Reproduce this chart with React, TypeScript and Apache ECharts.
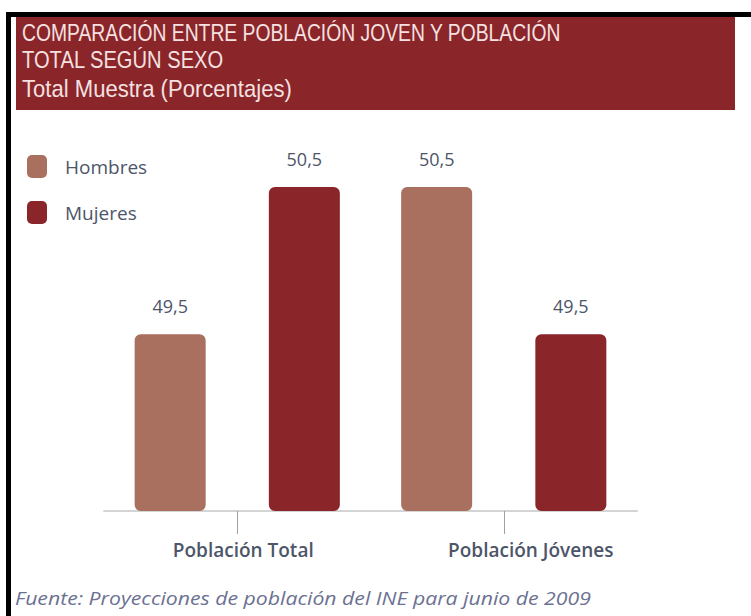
import React, { useEffect, useRef } from "react";
import * as echarts from "echarts";

const categories = ["Población Total", "Población Jóvenes"];
const seriesNames = ["Hombres", "Mujeres"];
const hombres = [49.5, 50.5];
const mujeres = [50.5, 49.5];
const titleLines = [
  "COMPARACIÓN ENTRE POBLACIÓN JOVEN Y POBLACIÓN",
  "TOTAL SEGÚN SEXO",
  "Total Muestra (Porcentajes)",
];
const sourceText = "Fuente: Proyecciones de población del INE para junio de 2009";

const RED = "#8a2529";
const BROWN = "#a96f5f";
const TEXT = "#4d5569";

export default function App() {
  const ref = useRef<HTMLDivElement>(null);
  useEffect(() => {
    document.body.style.margin = "0";
    const chart = echarts.init(ref.current!, null, { renderer: "svg" });
    const fmt = (p: any) => String(p.value).replace(".", ",");
    const labelCfg = {
      show: true,
      position: "top",
      distance: 19,
      formatter: fmt,
      color: TEXT,
      fontSize: 18,
      fontFamily: "Open Sans",
    };
    const titleFont = "24px 'Liberation Sans', Arial, sans-serif";
    chart.setOption({
      animation: false,
      backgroundColor: "#ffffff",
      legend: {
        orient: "vertical",
        left: 22,
        top: 150,
        icon: "roundRect",
        itemWidth: 20,
        itemHeight: 23,
        itemGap: 23,
        data: seriesNames,
        textStyle: {
          color: TEXT,
          fontSize: 19,
          fontFamily: "Open Sans",
          padding: [0, 0, 0, 13],
        },
      },
      grid: { left: 104, right: 114, top: 187, bottom: 105 },
      xAxis: {
        type: "category",
        data: categories,
        axisLine: { lineStyle: { color: "#d4d4d4", width: 2 } },
        axisTick: {
          show: true,
          alignWithLabel: true,
          length: 23,
          lineStyle: { color: "#a0a0a0", width: 1 },
        },
        axisLabel: {
          margin: 29,
          formatter: (v: string, i: number) => (i === 0 ? `{a|${v}}` : `{b|${v}}`),
          rich: {
            a: { color: TEXT, fontSize: 19, fontWeight: 600, fontFamily: "Open Sans", padding: [0, 0, 0, 12] },
            b: { color: TEXT, fontSize: 19, fontWeight: 600, fontFamily: "Open Sans", padding: [0, 0, 0, 54] },
          },
        },
      },
      yAxis: {
        type: "value",
        min: 48.3,
        max: 50.5,
        show: false,
      },
      series: [
        {
          name: seriesNames[0],
          type: "bar",
          data: hombres,
          barWidth: 71,
          barGap: "89%",
          itemStyle: { color: BROWN, borderRadius: 6 },
          label: labelCfg,
        },
        {
          name: seriesNames[1],
          type: "bar",
          data: mujeres,
          barWidth: 71,
          barGap: "89%",
          itemStyle: { color: RED, borderRadius: 6 },
          label: labelCfg,
        },
      ],
      graphic: [
        { type: "rect", shape: { x: 6, y: 12, width: 745, height: 5 }, style: { fill: "#000" } },
        { type: "rect", shape: { x: 6, y: 12, width: 5, height: 604 }, style: { fill: "#000" } },
        { type: "rect", shape: { x: 16, y: 17, width: 719, height: 93 }, style: { fill: RED } },
        {
          type: "text",
          x: 22,
          y: 21,
          scaleX: 0.805,
          style: { text: titleLines[0], fill: "#f5e1e1", font: titleFont },
        },
        {
          type: "text",
          x: 22,
          y: 48,
          scaleX: 0.84,
          style: { text: titleLines[1], fill: "#f5e1e1", font: titleFont },
        },
        {
          type: "text",
          x: 22,
          y: 77,
          scaleX: 0.92,
          style: { text: titleLines[2], fill: "#f5e1e1", font: titleFont },
        },
        {
          type: "text",
          x: 15,
          y: 589,
          scaleX: 1.18,
          style: { text: sourceText, fill: "#6b7191", font: "italic 18px 'Open Sans'" },
        },
      ],
    });
    return () => chart.dispose();
  }, []);
  return <div ref={ref} style={{ width: 751, height: 616 }} />;
}
